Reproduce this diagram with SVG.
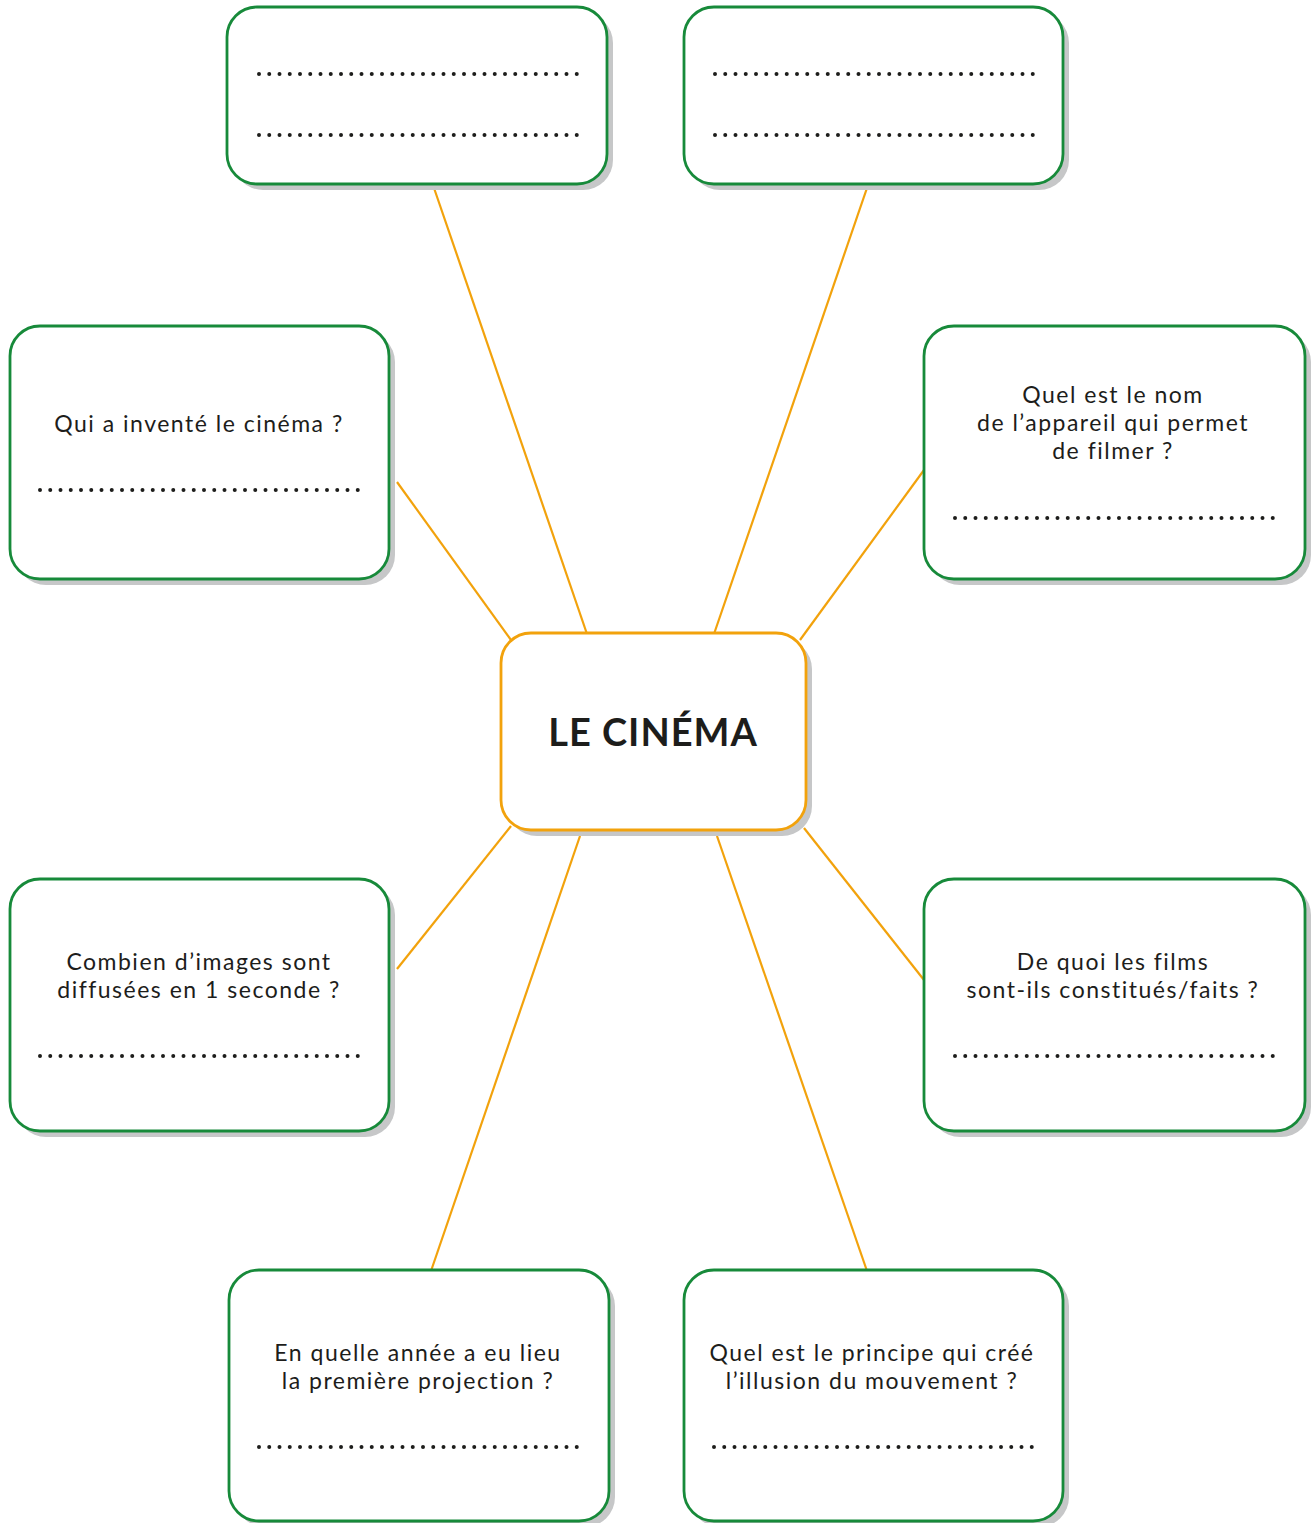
<svg xmlns="http://www.w3.org/2000/svg" width="1314" height="1523" viewBox="0 0 1314 1523">
<defs>
<style>
.sh{fill:#c6c7c8;}
.box{fill:#fff;stroke:#178a3a;stroke-width:2.8;}
.center{fill:#fff;stroke:#f2a20c;stroke-width:2.8;}
.conn{stroke:#f2a20c;stroke-width:2.2;fill:none;}
.dots{stroke:#1d1d1b;stroke-width:4;stroke-linecap:round;stroke-dasharray:0 10.25;}
.q{font-family:"Lato","Noto Sans",sans-serif;font-size:23px;fill:#1d1d1b;text-anchor:middle;letter-spacing:1.5px;}
.title{font-family:"Lato","Noto Sans",sans-serif;font-size:38px;font-weight:bold;fill:#1d1d1b;text-anchor:middle;letter-spacing:1px;}
</style>
</defs>
<rect width="1314" height="1523" fill="#fff"/>
<g id="connectors">
<line class="conn" x1="434" y1="188" x2="587" y2="634"/>
<line class="conn" x1="867" y1="188" x2="714" y2="634"/>
<line class="conn" x1="397" y1="482" x2="511" y2="640"/>
<line class="conn" x1="924" y1="470" x2="800" y2="640"/>
<line class="conn" x1="397" y1="969" x2="511" y2="826"/>
<line class="conn" x1="924" y1="980" x2="804" y2="828"/>
<line class="conn" x1="431" y1="1271" x2="580" y2="836"/>
<line class="conn" x1="867" y1="1271" x2="717" y2="836"/>
</g>
<g id="center">
<rect class="sh" x="507" y="639" width="305" height="197" rx="30"/>
<rect class="center" x="501" y="633" width="305" height="197" rx="30"/>
<text class="title" x="653" y="746">LE CINÉMA</text>
</g>
<g id="top-left">
<rect class="sh" x="233" y="13" width="380" height="177" rx="30"/>
<rect class="box" x="227" y="7" width="380" height="177" rx="30"/>
<line class="dots" x1="259" y1="74" x2="577" y2="74"/>
<line class="dots" x1="259" y1="135" x2="577" y2="135"/>
</g>
<g id="top-right">
<rect class="sh" x="690" y="13" width="379" height="177" rx="30"/>
<rect class="box" x="684" y="7" width="379" height="177" rx="30"/>
<line class="dots" x1="715" y1="74" x2="1033" y2="74"/>
<line class="dots" x1="715" y1="135" x2="1033" y2="135"/>
</g>
<g id="left-1">
<rect class="sh" x="16" y="332" width="379" height="253" rx="30"/>
<rect class="box" x="10" y="326" width="379" height="253" rx="30"/>
<text class="q" x="199" y="432">Qui a inventé le cinéma ?</text>
<line class="dots" x1="40" y1="490" x2="359" y2="490"/>
</g>
<g id="right-1">
<rect class="sh" x="930" y="332" width="381" height="253" rx="30"/>
<rect class="box" x="924" y="326" width="381" height="253" rx="30"/>
<text class="q" x="1113" y="403">Quel est le nom</text>
<text class="q" x="1113" y="431">de l’appareil qui permet</text>
<text class="q" x="1113" y="459">de filmer ?</text>
<line class="dots" x1="955" y1="518" x2="1274" y2="518"/>
</g>
<g id="left-2">
<rect class="sh" x="16" y="885" width="379" height="252" rx="30"/>
<rect class="box" x="10" y="879" width="379" height="252" rx="30"/>
<text class="q" x="199" y="970">Combien d’images sont</text>
<text class="q" x="199" y="998">diffusées en 1 seconde ?</text>
<line class="dots" x1="40" y1="1056" x2="359" y2="1056"/>
</g>
<g id="right-2">
<rect class="sh" x="930" y="885" width="381" height="252" rx="30"/>
<rect class="box" x="924" y="879" width="381" height="252" rx="30"/>
<text class="q" x="1113" y="970">De quoi les films</text>
<text class="q" x="1113" y="998">sont-ils constitués/faits ?</text>
<line class="dots" x1="955" y1="1056" x2="1274" y2="1056"/>
</g>
<g id="bottom-left">
<rect class="sh" x="235" y="1276" width="380" height="251" rx="30"/>
<rect class="box" x="229" y="1270" width="380" height="251" rx="30"/>
<text class="q" x="418" y="1361">En quelle année a eu lieu</text>
<text class="q" x="418" y="1389">la première projection ?</text>
<line class="dots" x1="259" y1="1447" x2="579" y2="1447"/>
</g>
<g id="bottom-right">
<rect class="sh" x="690" y="1276" width="379" height="251" rx="30"/>
<rect class="box" x="684" y="1270" width="379" height="251" rx="30"/>
<text class="q" x="872" y="1361">Quel est le principe qui créé</text>
<text class="q" x="872" y="1389">l’illusion du mouvement ?</text>
<line class="dots" x1="714" y1="1447" x2="1033" y2="1447"/>
</g>
</svg>
